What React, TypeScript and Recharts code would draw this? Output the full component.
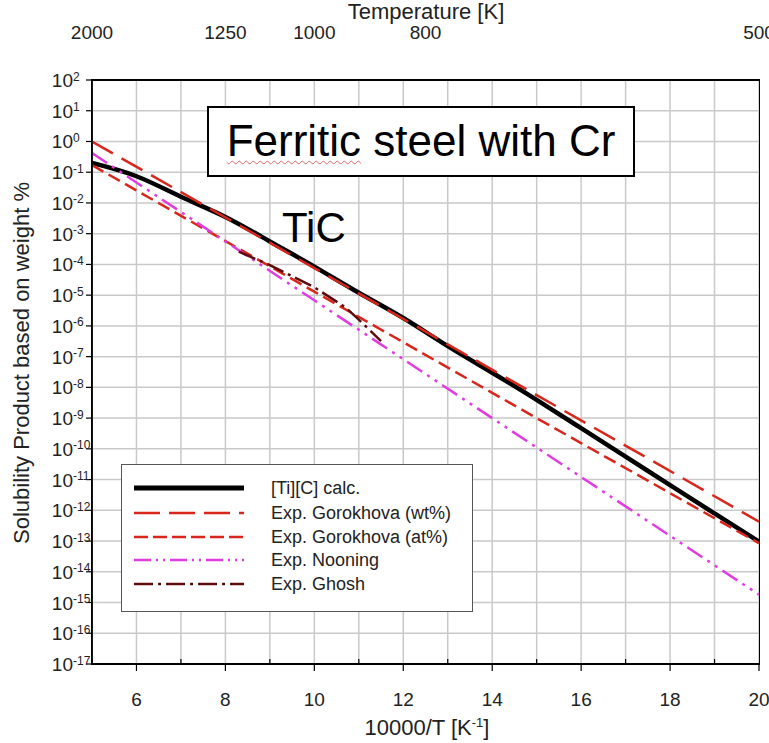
import React from "react";
import { LineChart, Line, XAxis, YAxis, CartesianGrid } from "recharts";

const FONT = '"Liberation Sans", Arial, Helvetica, sans-serif';

// 10000/T positions and values
const calcX = [5, 6, 7, 8, 9, 10, 11, 12, 13, 14, 15, 16, 17, 18, 19, 20];
const calcY = [2.0e-1, 7.4e-2, 1.6e-2, 3.5e-3, 5.6e-4, 8.5e-5, 1.2e-5, 1.8e-6, 2.2e-7, 3.0e-8, 3.9e-9, 4.7e-10, 5.6e-11, 6.6e-12, 7.9e-13, 9.5e-14];

const gorWtX = [5, 10, 15, 20];
const gorWtY = [1.0, 7.6e-5, 5.6e-9, 4.3e-13];

const gorAtX = [5, 10, 15, 20];
const gorAtY = [1.7e-1, 1.3e-5, 1.0e-9, 8.5e-14];

const nooningX = [5, 10, 15, 20];
const nooningY = [4.2e-1, 6.8e-6, 1.1e-10, 1.8e-15];

const ghoshX = [8.3, 9, 10, 10.7, 11, 11.5];
const ghoshY = [2.6e-4, 9.5e-5, 1.8e-5, 4.0e-6, 1.6e-6, 3.2e-7];

const yTicks = [1e2, 1e1, 1e0, 1e-1, 1e-2, 1e-3, 1e-4, 1e-5, 1e-6, 1e-7, 1e-8, 1e-9, 1e-10, 1e-11, 1e-12, 1e-13, 1e-14, 1e-15, 1e-16, 1e-17];
const xGridTicks = [5, 6, 7, 8, 9, 10, 11, 12, 13, 14, 15, 16, 17, 18, 19, 20];
const xLabelTicks = [6, 8, 10, 12, 14, 16, 18, 20];
const tempTicks = [2000, 1250, 1000, 800, 500];

const pts = (xs: number[], ys: number[]) => xs.map((x, i) => ({ x, y: ys[i] }));

const series = [
  { key: "calc", name: "[Ti][C] calc.", data: pts(calcX, calcY), color: "#000000", width: 4.5, dash: undefined, legendDash: undefined, legendWidth: 5, type: "natural" },
  { key: "gwt", name: "Exp. Gorokhova (wt%)", data: pts(gorWtX, gorWtY), color: "#d8261c", width: 2.5, dash: "24 10", legendDash: "26 9", legendWidth: 2.5, type: "linear" },
  { key: "gat", name: "Exp. Gorokhova (at%)", data: pts(gorAtX, gorAtY), color: "#d8261c", width: 2.5, dash: "13 6", legendDash: "14 5", legendWidth: 2.5, type: "linear" },
  { key: "noo", name: "Exp. Nooning", data: pts(nooningX, nooningY), color: "#e03ce0", width: 2.5, dash: "18 6 3 6 3 6", legendDash: "17 5 2 5 2 5", legendWidth: 2.5, type: "linear" },
  { key: "gho", name: "Exp. Ghosh", data: pts(ghoshX, ghoshY), color: "#5c0c0c", width: 2.5, dash: "18 5 3 5", legendDash: "19 5 3 5", legendWidth: 2.5, type: "linear" },
];

const YTick = (props: any) => {
  const { y, payload } = props;
  const e = Math.round(Math.log10(payload.value));
  return (
    <g fontFamily={FONT} fill="#222">
      <text x={73} y={y + 7} fontSize={19} textAnchor="end">10</text>
      <text x={73} y={y + 0.5} fontSize={12} textAnchor="start">{e}</text>
    </g>
  );
};

const XTick = (props: any) => {
  const { x, payload } = props;
  const v = payload.value;
  if (!xLabelTicks.includes(v)) {
    return <line x1={x} x2={x} y1={664} y2={659} stroke="#000" strokeWidth={1.2} />;
  }
  return (
    <g>
      <line x1={x} x2={x} y1={664} y2={671} stroke="#000" strokeWidth={1.2} />
      <text x={x} y={706} fontSize={19} fontFamily={FONT} fill="#222" textAnchor="middle">{v}</text>
    </g>
  );
};

const TopTick = (props: any) => {
  const { x, payload } = props;
  return (
    <text x={x} y={39} fontSize={19} fontFamily={FONT} fill="#222" textAnchor="middle">
      {Math.round(10000 / payload.value)}
    </text>
  );
};

export default function App() {
  return (
    <div style={{ position: "absolute", left: 0, top: 0, width: 769, height: 743, background: "#fff", fontFamily: FONT }}>
      <LineChart width={769} height={743} margin={{ top: 40, right: 10, bottom: 39, left: 12 }}>
        <CartesianGrid stroke="#c9c9c9" strokeWidth={1.5} />
        <XAxis
          dataKey="x"
          type="number"
          domain={[5, 20]}
          ticks={xGridTicks}
          allowDataOverflow
          height={40}
          tick={<XTick />}
          tickLine={false}
          axisLine={{ stroke: "#000", strokeWidth: 1.8 }}
        />
        <XAxis
          xAxisId="top"
          dataKey="x"
          orientation="top"
          type="number"
          domain={[5, 20]}
          ticks={tempTicks.map((t) => 10000 / t)}
          allowDataOverflow
          height={40}
          tick={<TopTick />}
          tickLine={false}
          axisLine={{ stroke: "#000", strokeWidth: 1.8 }}
        />
        <YAxis
          type="number"
          scale="log"
          domain={[1e-17, 1e2]}
          ticks={yTicks}
          allowDataOverflow
          width={80}
          tick={<YTick />}
          tickLine={{ stroke: "#000", strokeWidth: 1.2 }}
          tickSize={6}
          axisLine={{ stroke: "#000", strokeWidth: 1.8 }}
        />
        {/* invisible copy so the temperature axis has a series bound to it */}
        <Line
          xAxisId="top"
          data={series[0].data}
          dataKey="y"
          type="linear"
          stroke="none"
          strokeWidth={0}
          dot={false}
          activeDot={false}
          legendType="none"
          isAnimationActive={false}
        />
        {series.map((s) => (
          <Line
            key={s.key}
            data={s.data}
            dataKey="y"
            name={s.name}
            type={s.type as any}
            stroke={s.color}
            strokeWidth={s.width}
            strokeDasharray={s.dash}
            dot={false}
            activeDot={false}
            isAnimationActive={false}
          />
        ))}
      </LineChart>

      {/* plot frame */}
      <div
        style={{
          position: "absolute",
          left: 91,
          top: 79,
          width: 669,
          height: 586,
          boxSizing: "border-box",
          border: "1.8px solid #000",
          pointerEvents: "none",
        }}
      />

      {/* axis titles */}
      <div style={{ position: "absolute", left: 0, width: 852, top: 0, textAlign: "center", fontSize: 22, color: "#222", lineHeight: "24px" }}>
        Temperature [K]
      </div>
      <div style={{ position: "absolute", left: 0, width: 854, top: 716, textAlign: "center", fontSize: 22, color: "#222", lineHeight: "24px" }}>
        10000/T [K<sup style={{ fontSize: 13, verticalAlign: "8px", lineHeight: 0 }}>-1</sup>]
      </div>
      <div
        style={{
          position: "absolute",
          left: 22,
          top: 363,
          transform: "translate(-50%, -50%) rotate(-90deg)",
          whiteSpace: "nowrap",
          fontSize: 22,
          color: "#222",
          lineHeight: "24px",
        }}
      >
        Solubility Product based on weight %
      </div>

      {/* title box */}
      <div
        style={{
          position: "absolute",
          left: 207,
          top: 106,
          width: 428,
          height: 71,
          boxSizing: "border-box",
          border: "2.5px solid #000",
          background: "#fff",
          fontSize: 44,
          lineHeight: "66px",
          textAlign: "center",
          color: "#000",
          whiteSpace: "nowrap",
        }}
      >
        <span style={{ textDecoration: "underline wavy #d66", textDecorationThickness: "1px", textUnderlineOffset: "4px" }}>Ferritic</span> steel with Cr
      </div>

      <div style={{ position: "absolute", left: 282, top: 204, fontSize: 42, lineHeight: "48px", color: "#000" }}>TiC</div>

      {/* legend */}
      <div
        style={{
          position: "absolute",
          left: 121,
          top: 464,
          width: 352,
          height: 148,
          boxSizing: "border-box",
          border: "1.5px solid #555",
          background: "#fff",
        }}
      >
        {series.map((s, i) => {
          const cy = [23, 48, 72, 95, 119][i];
          return (
            <div key={s.key} style={{ position: "absolute", left: 0, top: cy - 12, height: 24, width: 350 }}>
              <svg width={120} height={24} style={{ position: "absolute", left: 10, top: 0 }}>
                <line x1={2} x2={112} y1={12} y2={12} stroke={s.color} strokeWidth={s.legendWidth} strokeDasharray={s.legendDash} />
              </svg>
              <span style={{ position: "absolute", left: 149, top: 0, fontSize: 18, lineHeight: "24px", color: "#222", whiteSpace: "nowrap" }}>
                {s.name}
              </span>
            </div>
          );
        })}
      </div>
    </div>
  );
}
